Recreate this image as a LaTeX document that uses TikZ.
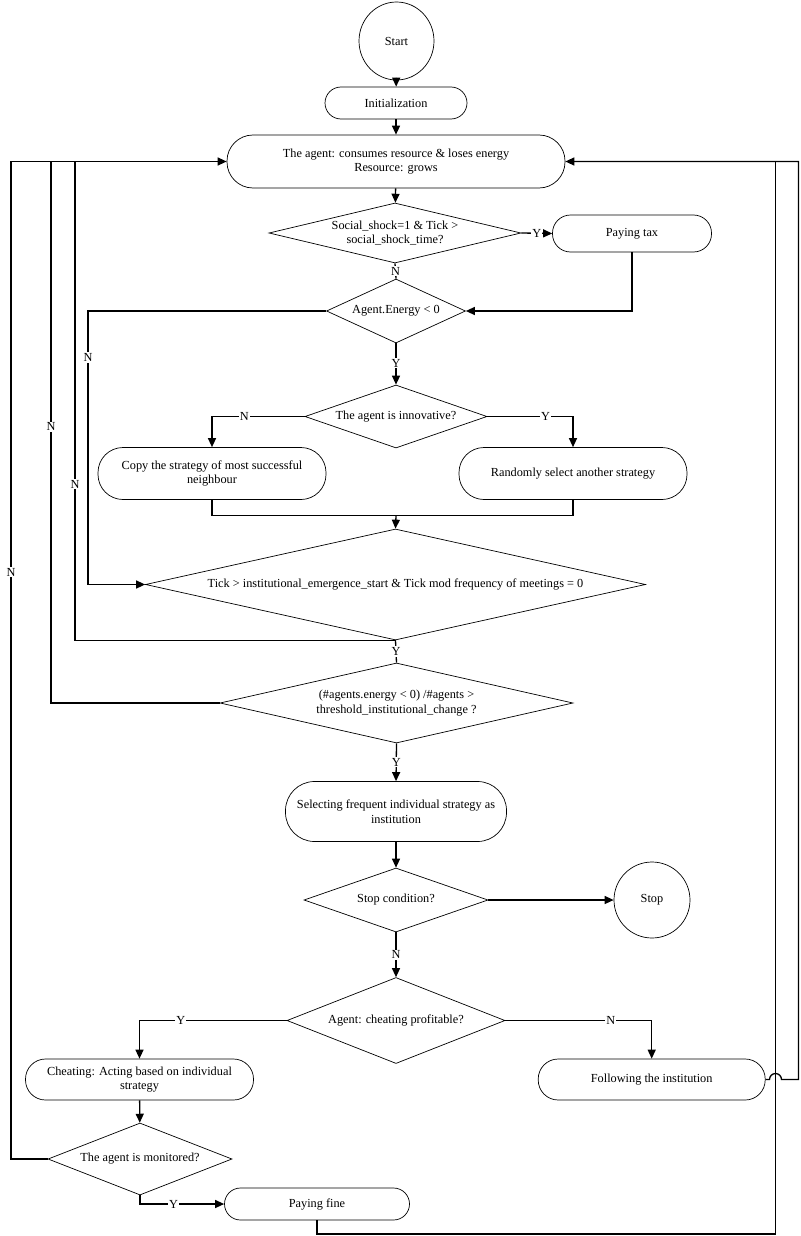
\documentclass[tikz,border=0pt]{standalone}
\usepackage{fontspec}
\setmainfont{Liberation Serif}
\usetikzlibrary{shapes.geometric,arrows.meta}
\begin{document}
\begin{tikzpicture}[x=1pt,y=-1pt,
  every node/.style={font=\fontsize{12.3}{14.5}\selectfont, inner sep=0pt},
  box/.style={draw, line width=0.7pt, align=center},
  dia/.style={draw, diamond, line width=0.7pt, align=center},
  term/.style={draw, ellipse, line width=0.7pt},
  conn/.style={line width=1.3pt},
  arr/.style={conn, -{Triangle[length=9pt,width=8pt]}},
  lab/.style={fill=white, inner sep=1pt}]
\useasboundingbox (0,0) rectangle (800,1236);
\fill[white] (0,0) rectangle (800,1236);
% nodes
\node[term, minimum width=75, minimum height=78] (start) at (396.5,41) {Start};
\node[box, minimum width=142, minimum height=32, rounded corners=16] (init) at (396,103) {Initialization};
\node[box, minimum width=338, minimum height=53, rounded corners=26] (agent) at (396,161.5) {The agent: consumes resource \& loses energy\\Resource: grows};
\node[dia, minimum width=252, minimum height=60, shape aspect=4.2] (shock) at (395,233) {Social\_shock=1 \& Tick >\\social\_shock\_time?};
\node[box, minimum width=159, minimum height=37, rounded corners=18] (tax) at (632,233.5) {Paying tax};
\node[dia, minimum width=139, minimum height=64, shape aspect=2.17] (energy) at (396,311) {Agent.Energy < 0};
\node[dia, minimum width=182, minimum height=63, shape aspect=2.9] (innov) at (396,416.5) {The agent is innovative?};
\node[box, minimum width=228, minimum height=52, rounded corners=25] (copy) at (212,473.5) {Copy the strategy of most successful\\neighbour};
\node[box, minimum width=228, minimum height=52, rounded corners=25] (rand) at (573,473.5) {Randomly select another strategy};
\node[dia, minimum width=500, minimum height=111, shape aspect=4.5] (tick) at (395.5,584.5) {Tick > institutional\_emergence\_start \& Tick mod frequency of meetings = 0};
\node[dia, minimum width=353, minimum height=80, shape aspect=4.4] (ratio) at (396.5,703) {(\#agents.energy < 0) /\#agents >\\threshold\_institutional\_change ?};
\node[box, minimum width=221, minimum height=60, rounded corners=29] (select) at (396,811.5) {Selecting frequent individual strategy as\\institution};
\node[dia, minimum width=184, minimum height=64, shape aspect=2.875] (stopc) at (396,900) {Stop condition?};
\node[term, minimum width=76, minimum height=76] (stop) at (652,900) {Stop};
\node[dia, minimum width=218, minimum height=86, shape aspect=2.53] (cheat) at (396,1020.5) {Agent: cheating profitable?};
\node[box, minimum width=228, minimum height=41, rounded corners=20] (cheatbox) at (139.5,1079.5) {Cheating: Acting based on individual\\strategy};
\node[box, minimum width=227, minimum height=41, rounded corners=20] (follow) at (651.7,1079.5) {Following the institution};
\node[dia, minimum width=184, minimum height=72, shape aspect=2.56] (monit) at (140,1159) {The agent is monitored?};
\node[box, minimum width=185, minimum height=32, rounded corners=16] (fine) at (317,1204) {Paying fine};
% helper coordinates
\coordinate (lA) at (11,161.5);
\coordinate (lB) at (51,161.5);
\coordinate (lC) at (75,161.5);
\coordinate (lD) at (88,311);
\coordinate (rA) at (775.5,161.5);
\coordinate (rB) at (798.5,161.5);
\coordinate (jn) at (396,515.7);
\coordinate (fb) at (317,1234);
\coordinate (br) at (775.5,1079.5);
% connectors
\draw[arr] (start) -- (init);
\draw[arr] (init) -- (agent);
\draw[arr] (agent) -- (shock);
\draw[arr] (shock.east) -- node[lab]{Y} (tax.west);
\draw[conn] (shock.south) -- node[lab]{N} (energy.north);
\draw[arr] (tax.south) |- (energy.east);
\draw[arr] (energy.west) -- (lD) -- node[lab, pos=0.17]{N} (lD |- tick.west) -- (tick.west);
\draw[arr] (energy.south) -- node[lab, pos=0.48]{Y} (innov.north);
\draw[arr] (innov.west) -- node[lab, pos=0.65]{N} (innov.west -| copy.north) -- (copy.north);
\draw[arr] (innov.east) -- node[lab, pos=0.68]{Y} (innov.east -| rand.north) -- (rand.north);
\draw[conn] (copy.south) |- (jn) -| (rand.south);
\draw[arr] (jn) -- (tick.north);
\draw[conn] (tick.south) -| node[lab, pos=0.663]{N} (lC);
\draw[conn] (tick.south) -- node[lab]{Y} (ratio.north);
\draw[conn] (ratio.west) -| node[lab, pos=0.755]{N} (lB);
\draw[arr] (monit.west) -| node[lab, pos=0.794]{N} (lA) -- (agent.west);
\draw[arr] (ratio.south) -- node[lab, pos=0.5]{Y} (select.north);
\draw[arr] (select) -- (stopc);
\draw[arr] (stopc.east) -- (stop.west);
\draw[arr] (stopc.south) -- node[lab, pos=0.5]{N} (cheat.north);
\draw[arr] (cheat.west) -| node[lab, pos=0.36]{Y} (cheatbox.north);
\draw[arr] (cheat.east) -| node[lab, pos=0.36]{N} (follow.north);
\draw[arr] (cheatbox) -- (monit);
\draw[arr] (monit.south) |- node[lab, pos=0.7]{Y} (fine.west);
\draw[conn] (fine.south) -- (fb) -| (rA);
\draw[arr] (follow.east) -- ([xshift=-6pt]br) arc[start angle=180, end angle=0, radius=6pt] -- (br -| rB) -- (rB) -- (agent.east);
\end{tikzpicture}
\end{document}
